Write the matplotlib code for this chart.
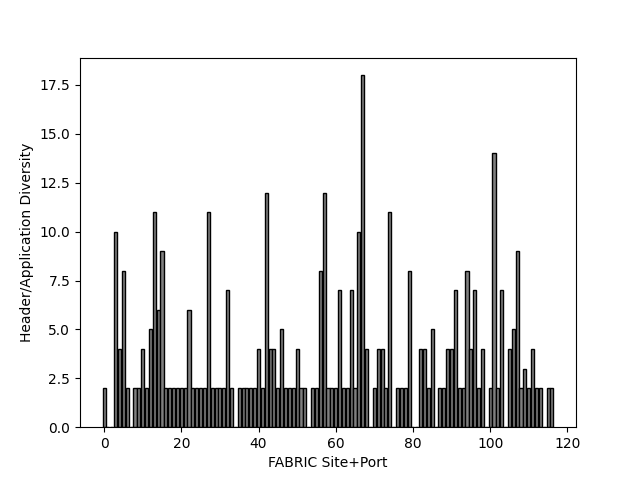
import matplotlib
matplotlib.use("Agg")
import matplotlib.pyplot as plt
import numpy as np

# diversity count per FABRIC site+port index
diversity = [
    2, 0, 0, 10, 4, 8, 2, 0, 2, 2,
    4, 2, 5, 11, 6, 9, 2, 2, 2, 2,
    2, 2, 6, 2, 2, 2, 2, 11, 2, 2,
    2, 2, 7, 2, 0, 2, 2, 2, 2, 2,
    4, 2, 12, 4, 4, 2, 5, 2, 2, 2,
    4, 2, 2, 0, 2, 2, 8, 12, 2, 2,
    2, 7, 2, 2, 7, 2, 10, 18, 4, 0,
    2, 4, 4, 2, 11, 0, 2, 2, 2, 8,
    0, 0, 4, 4, 2, 5, 0, 2, 2, 4,
    4, 7, 2, 2, 8, 4, 7, 2, 4, 0,
    2, 14, 2, 7, 0, 4, 5, 9, 2, 3,
    2, 4, 2, 2, 0, 2, 2,
]
site_port = np.arange(len(diversity))

fig, ax = plt.subplots(figsize=(6.4, 4.8), dpi=100)
ax.bar(site_port, diversity, color="grey", edgecolor="black")
ax.set_xlabel("FABRIC Site+Port")
ax.set_ylabel("Header/Application Diversity")
fig.savefig("out.png")
